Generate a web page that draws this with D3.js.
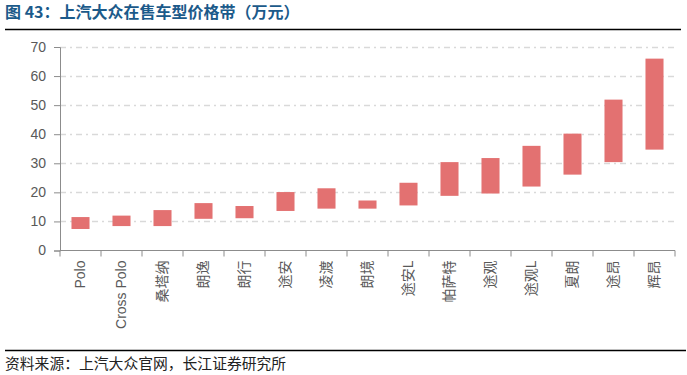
<!DOCTYPE html>
<html>
<head>
<meta charset="utf-8">
<script src="https://cdn.jsdelivr.net/npm/d3@7"></script>
<style>
    body { margin: 0; background: #fff; }
    #chart { width: 687px; height: 375px; }
    text { font-family: "Liberation Sans", Arial, "Noto Sans CJK SC", sans-serif; }
    .cjk { font-family: "Noto Sans CJK SC", sans-serif; }
</style>
</head>
<body>
<div id="chart"></div>
<script>
//Datos
const categorias = ['Polo', 'Cross Polo', '桑塔纳', '朗逸', '朗行', '途安', '凌渡', '朗境', '途安L', '帕萨特', '途观', '途观L', '夏朗', '途昂', '辉昂'];
const precioMin = [7.4, 8.4, 8.4, 10.9, 11.1, 13.6, 14.4, 14.4, 15.5, 18.8, 19.6, 22.0, 26.1, 30.4, 34.7];
const precioMax = [11.5, 12.0, 13.9, 16.3, 15.3, 20.1, 21.4, 17.2, 23.3, 30.4, 31.8, 36.0, 40.2, 51.9, 66.0];
const yTicks = [0, 10, 20, 30, 40, 50, 60, 70];

const COLOR_BAR = '#E37171',
COLOR_TITLE = '#1B5A8A';

let data = categorias.map(function(c, i) {
    return {cat: c, min: precioMin[i], max: precioMax[i]};
});

let margin = {top: 47, right: 12, bottom: 124.5, left: 60},
    width = 687 - margin.left - margin.right,
    height = 375 - margin.top - margin.bottom;

let root = d3.select('#chart')
    .append('svg')
    .attr('width', 687)
    .attr('height', 375);

//Titulo y fuente
root.append('text')
    .attr('class', 'cjk')
    .attr('x', 5)
    .attr('y', 18)
    .attr('fill', COLOR_TITLE)
    .style('font-size', '16px')
    .style('font-weight', '600')
    .text('图 43：上汽大众在售车型价格带（万元）');

root.append('line')
    .attr('x1', 5).attr('x2', 681)
    .attr('y1', 29.5).attr('y2', 29.5)
    .attr('stroke', '#000').attr('stroke-width', 1.5);

root.append('line')
    .attr('x1', 5).attr('x2', 686)
    .attr('y1', 350.5).attr('y2', 350.5)
    .attr('stroke', '#000').attr('stroke-width', 1.5);

root.append('text')
    .attr('class', 'cjk')
    .attr('x', 5)
    .attr('y', 369)
    .attr('fill', '#222')
    .style('font-size', '14.8px')
    .text('资料来源：上汽大众官网，长江证券研究所');

let svg = root.append('g')
    .attr('transform', 'translate(' + margin.left + ',' + margin.top + ')');

let x = d3.scaleBand()
    .domain(categorias)
    .range([0, width])
    .paddingInner(0.56)
    .paddingOuter(0.28);

let y = d3.scaleLinear()
    .domain([0, 70])
    .range([height, 0]);

//Rejilla
svg.append('g')
    .selectAll('line')
    .data(yTicks.filter(function(d) { return d > 0; }))
    .enter()
    .append('line')
    .attr('x1', 0)
    .attr('x2', width)
    .attr('y1', function(d) { return Math.round(y(d)) + 0.5; })
    .attr('y2', function(d) { return Math.round(y(d)) + 0.5; })
    .attr('stroke', '#D9D9D9')
    .attr('stroke-width', 1.3)
    .attr('stroke-dasharray', '6,4,2,4');

//Barras
svg.selectAll('bars')
    .data(data)
    .enter()
    .append('rect')
    .attr('x', function(d) { return x(d.cat); })
    .attr('y', function(d) { return y(d.max); })
    .attr('width', x.bandwidth())
    .attr('height', function(d) { return y(d.min) - y(d.max); })
    .attr('fill', COLOR_BAR);

//Eje Y
let yAxis = function(g) {
    g.call(d3.axisLeft(y).tickValues(yTicks).tickSize(6).tickPadding(8));
    g.select('.domain').attr('stroke', '#8C8C8C');
    g.selectAll('.tick line').attr('stroke', '#8C8C8C');
    g.selectAll('.tick text')
        .attr('fill', '#595959')
        .style('font-size', '14px');
};
svg.append('g').call(yAxis);

//Eje X
let step = x.step();
let xAxis = function(g) {
    g.append('line')
        .attr('x1', 0).attr('x2', width)
        .attr('y1', 0).attr('y2', 0)
        .attr('stroke', '#8C8C8C');
    g.selectAll('.xt')
        .data(d3.range(categorias.length + 1))
        .enter()
        .append('line')
        .attr('x1', function(i) { return x(categorias[0]) - x.paddingOuter() * step + i * step; })
        .attr('x2', function(i) { return x(categorias[0]) - x.paddingOuter() * step + i * step; })
        .attr('y1', 0).attr('y2', 6)
        .attr('stroke', '#8C8C8C');
    g.selectAll('.xl')
        .data(categorias)
        .enter()
        .append('text')
        .attr('transform', function(d) {
            return 'translate(' + (x(d) + x.bandwidth() / 2) + ',10) rotate(-90)';
        })
        .attr('text-anchor', 'end')
        .attr('dy', '0.35em')
        .attr('fill', '#595959')
        .style('font-size', '14px')
        .text(function(d) { return d; });
};
svg.append('g')
    .attr('transform', 'translate(0,' + height + ')')
    .call(xAxis);
</script>
</body>
</html>
